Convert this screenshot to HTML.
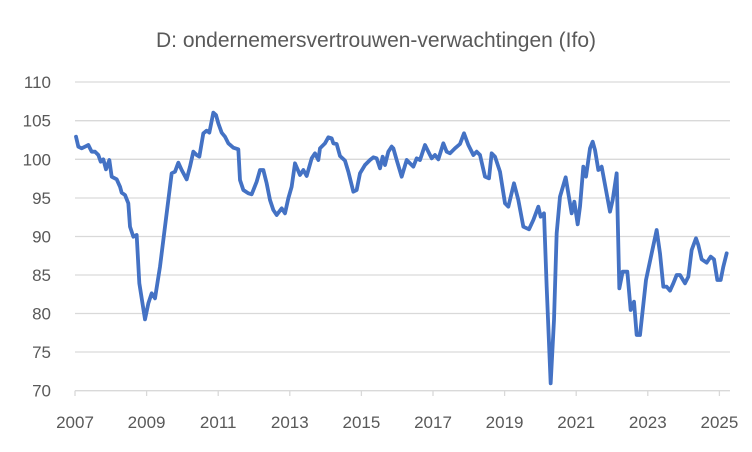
<!DOCTYPE html>
<html><head><style>
html,body{margin:0;padding:0;background:#fff;}
svg{display:block;font-family:"Liberation Sans",sans-serif;}
</style></head><body>
<svg width="752" height="452" viewBox="0 0 752 452">
<rect width="752" height="452" fill="#fff"/>
<text x="376" y="47" text-anchor="middle" font-size="21" fill="#595959">D: ondernemersvertrouwen-verwachtingen (Ifo)</text>
<g stroke="#d9d9d9" stroke-width="1.3">
<line x1="75" x2="730" y1="82" y2="82"/>
<line x1="75" x2="730" y1="120.7" y2="120.7"/>
<line x1="75" x2="730" y1="159.3" y2="159.3"/>
<line x1="75" x2="730" y1="198" y2="198"/>
<line x1="75" x2="730" y1="236.5" y2="236.5"/>
<line x1="75" x2="730" y1="275" y2="275"/>
<line x1="75" x2="730" y1="313.5" y2="313.5"/>
<line x1="75" x2="730" y1="352" y2="352"/>
<line x1="75" x2="730" y1="390.7" y2="390.7"/>
<line x1="75" x2="75" y1="390.7" y2="396"/>
<line x1="146.6" x2="146.6" y1="390.7" y2="396"/>
<line x1="218.2" x2="218.2" y1="390.7" y2="396"/>
<line x1="289.8" x2="289.8" y1="390.7" y2="396"/>
<line x1="361.4" x2="361.4" y1="390.7" y2="396"/>
<line x1="433" x2="433" y1="390.7" y2="396"/>
<line x1="504.6" x2="504.6" y1="390.7" y2="396"/>
<line x1="576.2" x2="576.2" y1="390.7" y2="396"/>
<line x1="647.8" x2="647.8" y1="390.7" y2="396"/>
<line x1="719.4" x2="719.4" y1="390.7" y2="396"/>
</g>
<g font-size="17" fill="#595959" text-anchor="end">
<text x="51" y="88">110</text><text x="51" y="126.7">105</text><text x="51" y="165.3">100</text>
<text x="51" y="204">95</text><text x="51" y="242.5">90</text><text x="51" y="281">85</text>
<text x="51" y="319.5">80</text><text x="51" y="358">75</text><text x="51" y="396.7">70</text>
</g>
<g font-size="17" fill="#595959" text-anchor="middle">
<text x="75" y="428">2007</text><text x="146.6" y="428">2009</text><text x="218.2" y="428">2011</text>
<text x="289.8" y="428">2013</text><text x="361.4" y="428">2015</text><text x="433" y="428">2017</text>
<text x="504.6" y="428">2019</text><text x="576.2" y="428">2021</text><text x="647.8" y="428">2023</text>
<text x="719.4" y="428">2025</text>
</g>
<g fill="none" stroke="#4472c4" stroke-width="3.8" stroke-linejoin="round" stroke-linecap="round">
<polyline transform="translate(60,100) scale(0.33333)" vector-effect="non-scaling-stroke" points="48,110 55,140 65,145 75,140 85,135 95,155 105,155 115,165 122,185 130,178 138,208 148,180 155,230 170,238 180,260 185,278 195,285 205,310 210,380 220,410 230,405 238,550 255,658 265,610 275,580 285,595 300,500 315,380 325,300 335,220 345,215 355,188 365,210 380,238 390,200 400,155 410,165 418,170 430,100 440,92 448,98 460,38 468,45 475,70 485,98 495,110 505,130 520,143 535,148 540,240 550,270 565,280 575,283 590,245 600,210 610,210 620,250 630,300 640,330 650,345 665,325 675,340 685,295 695,260 705,190 720,225 730,210 740,228 755,175 765,160 775,180 780,145 795,130 805,112 815,115 820,130 830,132 840,168 855,182 865,215 880,275 890,270 900,220 915,195 930,180 940,172 950,175 960,205 968,170 975,195 985,155 995,140"/>
<polyline transform="translate(390,120) scale(0.33333)" vector-effect="non-scaling-stroke" points="5,80 10,85 20,120 35,170 50,120 70,140 80,115 90,120 105,75 115,95 125,115 135,105 145,118 160,70 170,95 180,100 195,85 210,72 222,40 235,75 250,105 260,95 270,105 285,170 297,175 305,100 315,110 330,155 345,250 355,260 372,190 385,240 400,320 417,328 430,300 445,260 452,290 462,280 470,500 482,790 492,600 500,340 510,230 527,172 545,280 553,245 563,313 570,260 580,140 588,170 600,85 608,65 615,90 625,150 635,140 660,275 668,240 680,160 688,505 698,455 712,455 722,570 732,545 740,645 750,645 768,480 785,400 800,330 810,400 820,500 830,500 840,512 850,490 860,465 870,465 885,490 895,470 905,390 918,355 925,375 935,418 950,428 962,410 972,418 982,480 992,480 1000,440 1010,400"/>
</g>
</svg>
</body></html>
